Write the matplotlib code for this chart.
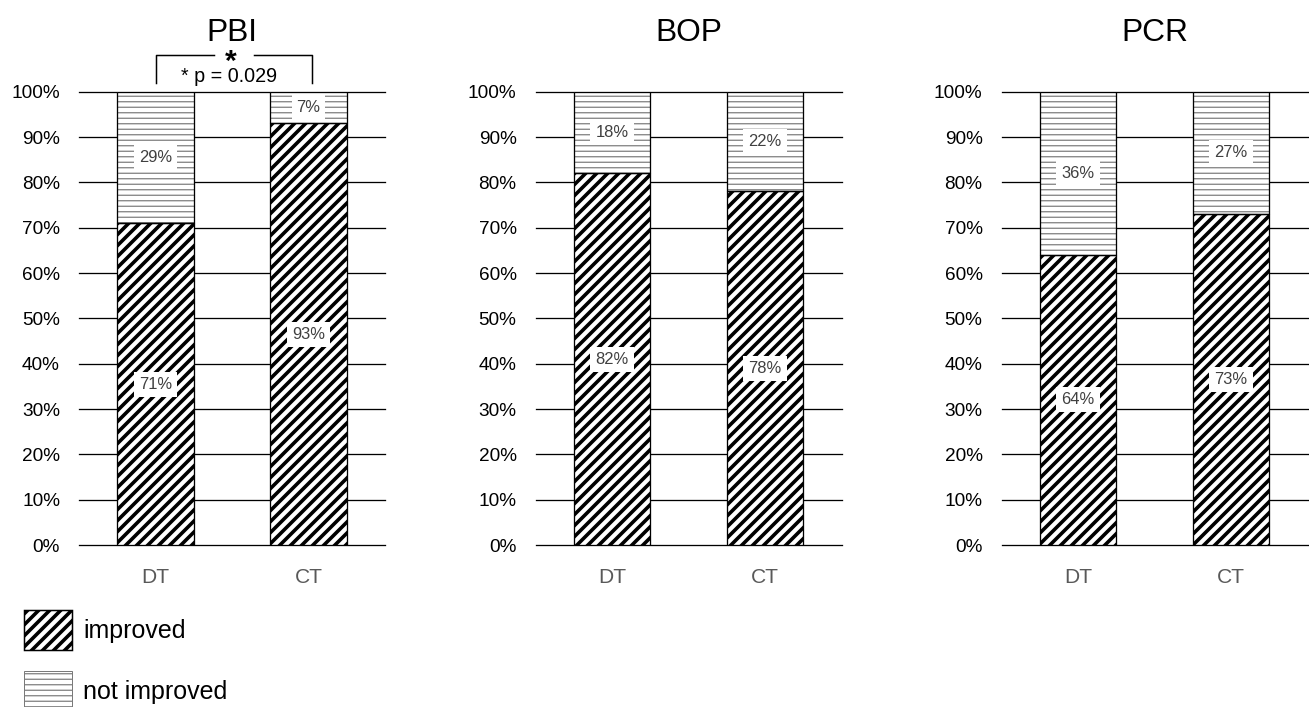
import matplotlib
matplotlib.use('Agg')
import matplotlib.pyplot as plt
from matplotlib.patches import Patch
from matplotlib.ticker import PercentFormatter

# Share of patients per group (percent)
groups = ['DT', 'CT']
panels = ['PBI', 'BOP', 'PCR']
improved = {'PBI': [71, 93], 'BOP': [82, 78], 'PCR': [64, 73]}
not_improved = {'PBI': [29, 7], 'BOP': [18, 22], 'PCR': [36, 27]}
p_value_text = '* p = 0.029'

DPI = 66
W, H = 1309, 707
PX = 72 / DPI  # points per pixel

plt.rcParams['font.family'] = ['Liberation Sans', 'DejaVu Sans']

fig = plt.figure(figsize=(W / DPI, H / DPI), dpi=DPI)

ax_lefts = [79, 535.5, 1001.5]
ax_w, ax_bottom, ax_h = 306, 545, 453.3

hatch_gray = '#7a7a7a'
label_gray = '#404040'
tick_gray = '#595959'
LW_DIAG = 3.6 * PX
LW_HORIZ = 1.2 * PX


def set_hatch_lw(patch, lw):
    if hasattr(patch, 'set_hatch_linewidth'):
        patch.set_hatch_linewidth(lw)


def hatched_bar(ax, x, h, bottom, hatch, color, lw_hatch):
    with plt.rc_context({'hatch.linewidth': lw_hatch}):
        bars = ax.bar(x, h, width=0.5, bottom=bottom, facecolor='white',
                      edgecolor=color, linewidth=0, hatch=hatch, zorder=2)
    for b in bars:
        set_hatch_lw(b, lw_hatch)
    # outline on top
    ax.bar(x, h, width=0.5, bottom=bottom, fill=False, edgecolor='black',
           linewidth=1.3 * PX, zorder=3)
    return bars


axes = []
for i, name in enumerate(panels):
    ax = fig.add_axes([ax_lefts[i] / W, (H - ax_bottom) / H, ax_w / W, ax_h / H])
    axes.append(ax)
    x = list(range(len(groups)))
    imp = [v / 100 for v in improved[name]]
    nimp = [v / 100 for v in not_improved[name]]

    hatched_bar(ax, x, imp, 0, '//', 'black', LW_DIAG)
    hatched_bar(ax, x, nimp, imp, '--', hatch_gray, LW_HORIZ)

    # value labels in the middle of each segment
    for xi, a, b, va, vb in zip(x, imp, nimp, improved[name], not_improved[name]):
        for y, v in ((a / 2, va), (a + b / 2, vb)):
            ax.text(xi, y, f'{v}%', ha='center', va='center', color=label_gray,
                    fontsize=16.5 * PX, zorder=4,
                    bbox=dict(boxstyle='square,pad=0.3', facecolor='white',
                              edgecolor='none'))

    ax.set_xlim(-0.5, 1.5)
    ax.set_ylim(0, 1)
    ax.set_yticks([i / 10 for i in range(11)])
    ax.yaxis.set_major_formatter(PercentFormatter(1.0, decimals=0))
    ax.set_xticks(x)
    ax.set_xticklabels(groups, color=tick_gray, fontsize=21 * PX)
    ax.tick_params(axis='y', length=0, pad=19 * PX, labelsize=19 * PX)
    ax.tick_params(axis='x', length=0, pad=23 * PX)
    ax.grid(axis='y', color='black', linewidth=1.3 * PX, zorder=0)
    ax.set_axisbelow(True)
    for gl in ax.get_ygridlines():
        gl.set_clip_on(False)
    for s in ax.spines.values():
        s.set_visible(False)
    ax.set_title(name, fontsize=31.7 * PX, pad=51 * PX)

# significance bracket over PBI
ax = axes[0]
lw = 1.5 * PX
ax.plot([0, 0, 0.38], [1.02, 1.082, 1.082], color='black', lw=lw, clip_on=False)
ax.plot([0.645, 1.02, 1.02], [1.082, 1.082, 1.02], color='black', lw=lw, clip_on=False)
ax.text(0.49, 1.049, '*', ha='center', va='baseline', fontsize=30 * PX,
        fontweight='bold')
ax.text(0.48, 1.0214, p_value_text, ha='center', va='baseline', fontsize=19.8 * PX)

# legend
h1 = Patch(facecolor='white', edgecolor='black', hatch='//', linewidth=1.5 * PX,
           label='improved')
h2 = Patch(facecolor='white', edgecolor=hatch_gray, hatch='--', linewidth=1.0 * PX,
           label='not improved')
with plt.rc_context({'hatch.linewidth': LW_DIAG}):
    leg = fig.legend(handles=[h1, h2], loc='upper left',
                     bbox_to_anchor=(14 / W, 1 - 600 / H), frameon=False,
                     fontsize=25 * PX, handlelength=1.92, handleheight=2.1,
                     handletextpad=0.45, labelspacing=0.84, borderaxespad=0)
leg_patches = leg.get_patches()
set_hatch_lw(leg_patches[0], LW_DIAG)
set_hatch_lw(leg_patches[1], LW_HORIZ)

fig.savefig('out.png', dpi=DPI)
